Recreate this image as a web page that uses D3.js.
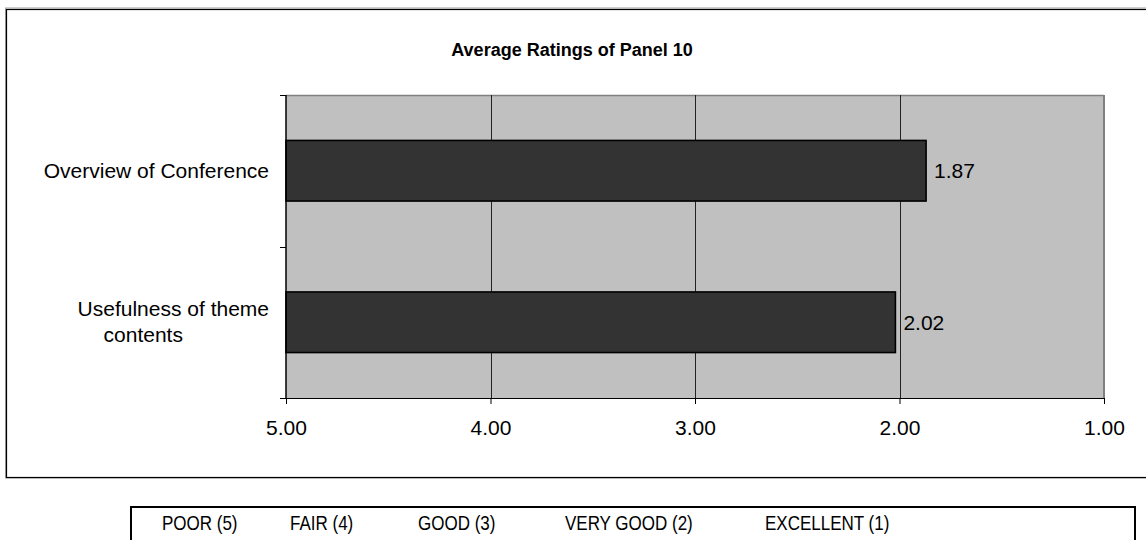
<!DOCTYPE html>
<html>
<head>
<meta charset="utf-8">
<script src="https://cdn.jsdelivr.net/npm/d3@7"></script>
<style>
  html, body { margin: 0; padding: 0; background: #fff; }
  svg { display: block; font-family: "Liberation Sans", Arial, sans-serif; }
</style>
</head>
<body>
<svg id="chart" width="1146" height="540"></svg>
<script>
// Rating data (1 = excellent, 5 = poor)
const categories = ["Overview of Conference", "Usefulness of theme contents"];
const categoryLines = [["Overview of Conference"], ["Usefulness of theme", "contents"]];
const ratings = [1.87, 2.02];
const tickValues = [5, 4, 3, 2, 1];
const scaleLabels = ["POOR (5)", "FAIR (4)", "GOOD (3)", "VERY GOOD (2)", "EXCELLENT (1)"];
const scaleLabelX = [162, 290, 418, 565, 765];
const title = "Average Ratings of Panel 10";

const svg = d3.select("#chart");
const plot = { left: 286, right: 1104, top: 95, bottom: 398 };
const fontSize = 21;

// Chart frame (runs past the right edge)
svg.append("rect").attr("x", 5.5).attr("y", 8).attr("width", 1160).attr("height", 470)
  .attr("fill", "none").attr("stroke", "#a0a0a0").attr("stroke-width", 1);
svg.append("rect").attr("x", 6.5).attr("y", 9.5).attr("width", 1160).attr("height", 468)
  .attr("fill", "none").attr("stroke", "#000").attr("stroke-width", 1.2);

const x = d3.scaleLinear().domain([5, 1]).range([plot.left, plot.right]);
const y = d3.scaleBand().domain(categories).range([plot.top, plot.bottom])
  .paddingInner(0.6).paddingOuter(0.3);

// Plot background
svg.append("rect")
  .attr("x", plot.left).attr("y", plot.top)
  .attr("width", plot.right - plot.left).attr("height", plot.bottom - plot.top)
  .attr("fill", "#c0c0c0");

// Plot border: grey top and right edges
svg.append("line").attr("x1", plot.left).attr("x2", plot.right)
  .attr("y1", plot.top + 0.5).attr("y2", plot.top + 0.5)
  .attr("stroke", "#808080").attr("stroke-width", 1.5);
svg.append("line").attr("x1", plot.right).attr("x2", plot.right)
  .attr("y1", plot.top).attr("y2", plot.bottom)
  .attr("stroke", "#808080").attr("stroke-width", 2);

// Vertical gridlines
svg.append("g").selectAll("line")
  .data(tickValues.filter(v => v !== 5 && v !== 1))
  .join("line")
  .attr("x1", d => Math.round(x(d)) + 0.5).attr("x2", d => Math.round(x(d)) + 0.5)
  .attr("y1", plot.top).attr("y2", plot.bottom)
  .attr("stroke", "#222").attr("stroke-width", 1);

// Bars
svg.append("g").selectAll("rect")
  .data(ratings)
  .join("rect")
  .attr("x", x(5))
  .attr("y", (d, i) => y(categories[i]))
  .attr("width", d => x(d) - x(5))
  .attr("height", y.bandwidth())
  .attr("fill", "#333333")
  .attr("stroke", "#000").attr("stroke-width", 1.6);

// Value labels
svg.append("g").selectAll("text")
  .data(ratings)
  .join("text")
  .attr("x", d => x(d) + 8)
  .attr("y", (d, i) => y(categories[i]) + y.bandwidth() / 2)
  .attr("dy", "0.36em")
  .attr("font-size", fontSize)
  .attr("fill", "#000")
  .text(d => d3.format(".2f")(d));

// Bottom axis
const xAxis = d3.axisBottom(x).tickValues(tickValues).tickFormat(d3.format(".2f"))
  .tickSize(6).tickSizeOuter(0).tickPadding(16);
const gx = svg.append("g").attr("transform", `translate(0,${plot.bottom})`).call(xAxis);
gx.select(".domain").attr("stroke", "#000").attr("stroke-width", 1.2);
gx.selectAll(".tick line").attr("stroke", "#000");
gx.selectAll(".tick text").attr("font-size", fontSize).attr("font-family", "Liberation Sans, Arial, sans-serif").attr("fill", "#000");

// Left axis line with ticks between categories
svg.append("line").attr("x1", plot.left).attr("x2", plot.left)
  .attr("y1", plot.top).attr("y2", plot.bottom)
  .attr("stroke", "#000").attr("stroke-width", 1.5);
const boundaries = d3.range(categories.length + 1).map(i => plot.top + i * (plot.bottom - plot.top) / categories.length);
svg.append("g").selectAll("line")
  .data(boundaries)
  .join("line")
  .attr("x1", plot.left - 6).attr("x2", plot.left)
  .attr("y1", d => Math.round(d) + 0.5).attr("y2", d => Math.round(d) + 0.5)
  .attr("stroke", "#000").attr("stroke-width", 1);

// Category labels
const labelRight = plot.left - 17;
const lineH = 26;
categoryLines.forEach((lines, i) => {
  const cy = y(categories[i]) + y.bandwidth() / 2 - (lines.length > 1 ? 1 : 0);
  const startY = cy - (lines.length - 1) * lineH / 2;
  const g = svg.append("g");
  const first = g.append("text")
    .attr("x", labelRight).attr("y", startY).attr("dy", "0.36em")
    .attr("text-anchor", "end").attr("font-size", fontSize).attr("fill", "#000")
    .text(lines[0]);
  if (lines.length > 1) {
    const w = first.node().getComputedTextLength();
    g.append("text")
      .attr("x", labelRight - w + 26).attr("y", startY + lineH).attr("dy", "0.36em")
      .attr("text-anchor", "start").attr("font-size", fontSize).attr("fill", "#000")
      .text(lines[1]);
  }
});

// Title
svg.append("text")
  .attr("x", 572).attr("y", 56)
  .attr("text-anchor", "middle").attr("font-size", 18).attr("font-weight", "bold")
  .attr("fill", "#000")
  .text(title);

// Rating scale key (condensed lettering)
svg.append("rect").attr("x", 131).attr("y", 507).attr("width", 1004).attr("height", 60)
  .attr("fill", "#fff").attr("stroke", "#000").attr("stroke-width", 2);
svg.append("g").selectAll("text")
  .data(scaleLabels)
  .join("text")
  .attr("transform", (d, i) => `translate(${scaleLabelX[i]},530) scale(0.85,1)`)
  .attr("font-size", 20).attr("fill", "#000")
  .text(d => d);
</script>
</body>
</html>
